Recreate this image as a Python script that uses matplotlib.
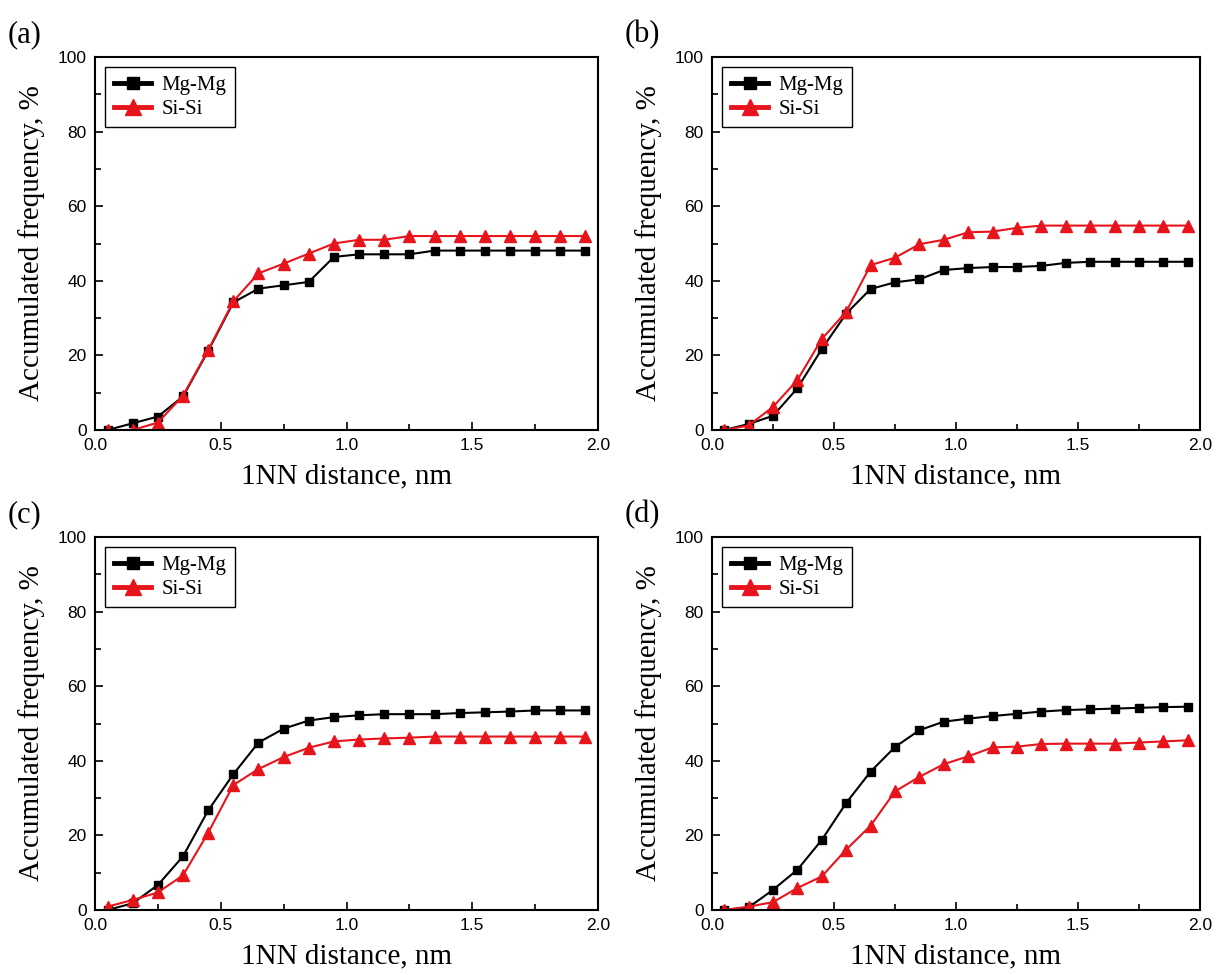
import matplotlib
matplotlib.use("Agg")
import matplotlib.pyplot as plt
from matplotlib.ticker import MultipleLocator

x = [0.05, 0.15, 0.25, 0.35, 0.45, 0.55, 0.65, 0.75, 0.85, 0.95,
     1.05, 1.15, 1.25, 1.35, 1.45, 1.55, 1.65, 1.75, 1.85, 1.95]

mg_a = [0, 1.8, 3.6, 9.0, 21.2, 34.2, 37.9, 38.8, 39.7, 46.4,
        47.1, 47.1, 47.1, 48.1, 48.1, 48.1, 48.1, 48.1, 48.1, 48.1]
si_a = [0, 0, 2.0, 9.2, 21.4, 34.5, 42.0, 44.6, 47.3, 50.0,
        51.0, 51.0, 52.0, 52.0, 52.0, 52.0, 52.0, 52.0, 52.0, 52.0]

mg_b = [0, 1.6, 3.8, 11.2, 21.7, 31.2, 37.8, 39.6, 40.4, 42.9,
        43.4, 43.7, 43.7, 44.0, 44.8, 45.1, 45.1, 45.1, 45.1, 45.1]
si_b = [0, 1.2, 6.2, 13.4, 24.4, 31.7, 44.2, 46.2, 49.8, 51.0,
        53.0, 53.2, 54.2, 54.8, 54.8, 54.8, 54.8, 54.8, 54.8, 54.8]

mg_c = [0, 1.8, 6.7, 14.4, 26.7, 36.4, 44.9, 48.6, 50.8, 51.7,
        52.2, 52.5, 52.5, 52.5, 52.8, 53.0, 53.2, 53.5, 53.5, 53.5]
si_c = [0.9, 2.7, 4.7, 9.3, 20.7, 33.5, 37.8, 41.0, 43.5, 45.2,
        45.7, 46.0, 46.2, 46.5, 46.5, 46.5, 46.5, 46.5, 46.5, 46.5]

mg_d = [0, 0.7, 5.4, 10.8, 18.8, 28.7, 37.1, 43.7, 48.2, 50.5,
        51.3, 52.0, 52.6, 53.2, 53.6, 53.8, 54.0, 54.2, 54.4, 54.5]
si_d = [0, 0.9, 2.1, 5.9, 9.0, 16.2, 22.6, 31.8, 35.7, 39.1,
        41.2, 43.6, 43.8, 44.5, 44.6, 44.6, 44.6, 44.9, 45.2, 45.5]

panels = ["(a)", "(b)", "(c)", "(d)"]
mg_sets = [mg_a, mg_b, mg_c, mg_d]
si_sets = [si_a, si_b, si_c, si_d]

serif = "Liberation Serif"
sans = "Liberation Sans"
red = "#e8141c"

fig = plt.figure(figsize=(12.31, 9.75), dpi=100)
W, H = 1231, 975
# axes boxes in pixels: left, top, right, bottom
boxes = [(95, 57, 598, 430), (712, 57, 1200, 430),
         (95, 537, 598, 910), (712, 537, 1200, 910)]
letter_pos = [(8, 42), (625, 42), (8, 522), (625, 522)]

for i in range(4):
    l, t, r, b = boxes[i]
    ax = fig.add_axes([l / W, 1 - b / H, (r - l) / W, (b - t) / H])
    ax.plot(x, mg_sets[i], "-", color="black", lw=1.5, marker="s", ms=6,
            label="Mg-Mg")
    ax.plot(x, si_sets[i], "-", color=red, lw=1.5, marker="^", ms=8,
            label="Si-Si")
    ax.set_xlim(0, 2.0)
    ax.set_ylim(0, 100)
    ax.xaxis.set_major_locator(MultipleLocator(0.5))
    ax.xaxis.set_minor_locator(MultipleLocator(0.25))
    ax.yaxis.set_major_locator(MultipleLocator(20))
    ax.yaxis.set_minor_locator(MultipleLocator(10))
    ax.tick_params(which="both", direction="in", top=False, right=False,
                   width=1.2, labelsize=12.5)
    ax.tick_params(axis="x", pad=6)
    ax.tick_params(axis="y", pad=6)
    ax.tick_params(which="major", length=6)
    ax.tick_params(which="minor", length=4)
    for lab in ax.get_xticklabels() + ax.get_yticklabels():
        lab.set_fontfamily(sans)
    for s in ax.spines.values():
        s.set_linewidth(1.5)
    ax.set_xlabel("1NN distance, nm", fontfamily=serif, fontsize=21,
                  labelpad=7)
    ax.set_ylabel("Accumulated frequency, %", fontfamily=serif, fontsize=21,
                  labelpad=9)
    leg = ax.legend(loc="upper left", prop={"family": serif, "size": 15},
                    fancybox=False, edgecolor="black", framealpha=1,
                    handlelength=1.8, markerscale=1.5, borderaxespad=0.5,
                    labelspacing=0.2, handletextpad=0.5, borderpad=0.4)
    leg.get_frame().set_linewidth(1.0)
    for hl in leg.get_lines():
        hl.set_linewidth(3.5)
    fig.text(letter_pos[i][0] / W, 1 - letter_pos[i][1] / H, panels[i],
             fontfamily=serif, fontsize=22, ha="left", va="baseline")

fig.savefig("out.png", dpi=100)
